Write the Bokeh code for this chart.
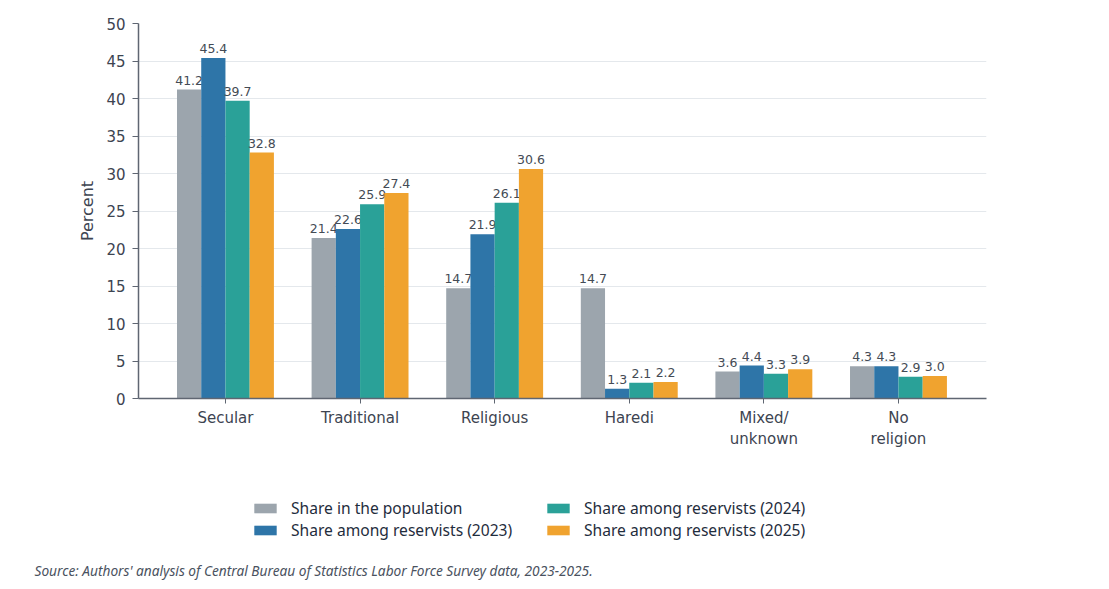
from bokeh.plotting import figure
from bokeh.models import (ColumnDataSource, Range1d, FixedTicker, Legend, LegendItem, Label)
from bokeh.layouts import column
from bokeh.core.properties import value
from bokeh.embed import file_html
from bokeh.resources import INLINE

# data
categories = ["Secular", "Traditional", "Religious", "Haredi", "Mixed/\nunknown", "No\nreligion"]
population = [41.2, 21.4, 14.7, 14.7, 3.6, 4.3]
reservists_2023 = [45.4, 22.6, 21.9, 1.3, 4.4, 4.3]
reservists_2024 = [39.7, 25.9, 26.1, 2.1, 3.3, 2.9]
reservists_2025 = [32.8, 27.4, 30.6, 2.2, 3.9, 3.0]
series_names = ["Share in the population", "Share among reservists (2023)",
                "Share among reservists (2024)", "Share among reservists (2025)"]
y_ticks = [0, 5, 10, 15, 20, 25, 30, 35, 40, 45, 50]
source_text = "Source: Authors' analysis of Central Bureau of Statistics Labor Force Survey data, 2023-2025."

colors = ["#9ca5ad", "#2e75a8", "#2aa198", "#f0a32f"]
offsets = [-0.27, -0.09, 0.09, 0.27]
bar_w = 0.18

tick_color = "#3d4451"
axis_color = "#5f6672"
font = "DejaVu Sans"

# main chart
p = figure(width=1109, height=465, min_border_left=138, min_border_right=123,
           min_border_top=23, min_border_bottom=67,
           x_range=Range1d(-0.646, 5.654), y_range=Range1d(0, 50),
           output_backend="svg", toolbar_location=None, tools="")
p.outline_line_color = None

idx = list(range(len(categories)))
for vals, off, col in zip([population, reservists_2023, reservists_2024, reservists_2025],
                          offsets, colors):
    src = ColumnDataSource(dict(x=[i + off for i in idx], top=vals,
                                lab=[f"{v:.1f}" for v in vals]))
    p.vbar(x="x", top="top", width=bar_w, source=src, fill_color=col, line_color=None)
    p.text(x="x", y="top", text="lab", source=src, text_align="center",
           text_baseline="bottom", y_offset=-5, text_font=value(font),
           text_font_size="12.5px", text_color="#444b55")

# axes
p.xaxis.ticker = FixedTicker(ticks=idx)
p.xaxis.major_label_overrides = {i: c for i, c in enumerate(categories)}
p.xaxis.major_label_text_font = font
p.xaxis.major_label_text_font_size = "15px"
p.xaxis.major_label_text_color = tick_color
p.xaxis.axis_line_color = axis_color
p.xaxis.axis_line_width = 1.5
p.xaxis.major_tick_line_color = axis_color
p.xaxis.major_tick_in = 0
p.xaxis.major_tick_out = 5
p.xaxis.minor_tick_line_color = None
p.xaxis.major_label_standoff = 5

p.yaxis.ticker = FixedTicker(ticks=y_ticks)
p.yaxis.axis_label = "Percent"
p.yaxis.axis_label_text_font = font
p.yaxis.axis_label_text_font_size = "16px"
p.yaxis.axis_label_text_font_style = "normal"
p.yaxis.axis_label_text_color = tick_color
p.yaxis.axis_label_standoff = 6
p.yaxis.major_label_text_font = font
p.yaxis.major_label_text_font_size = "15px"
p.yaxis.major_label_text_color = tick_color
p.yaxis.major_label_standoff = 7
p.yaxis.axis_line_color = axis_color
p.yaxis.axis_line_width = 1.5
p.yaxis.major_tick_line_color = axis_color
p.yaxis.major_tick_in = 0
p.yaxis.major_tick_out = 6
p.yaxis.minor_tick_line_color = None

p.xgrid.grid_line_color = None
p.ygrid.grid_line_color = "#e4e8ec"

# strip below the chart for the legend and the source note
p2 = figure(width=1109, height=124, min_border=0, x_range=Range1d(0, 1), y_range=Range1d(0, 1),
            x_axis_location=None, y_axis_location=None, frame_align=False,
            output_backend="svg", toolbar_location=None, tools="")
p2.outline_line_color = None
p2.grid.visible = False

# off-screen swatches, only used by the legend
swatches = []
for col in colors:
    swatches.append(p2.vbar(x=[-10], top=[-10], bottom=[-11], width=0.1,
                            fill_color=col, line_color=None))

def make_legend(items, loc):
    lg = Legend(items=items, location=loc, orientation="vertical",
                label_text_font="Noto Sans", label_text_font_size="15.6px",
                label_text_color="#1f2d3d", glyph_width=28, glyph_height=12,
                label_height=18, label_standoff=12, spacing=0, padding=0, margin=0,
                border_line_color=None, background_fill_alpha=0)
    p2.add_layout(lg, "center")

make_legend([LegendItem(label=series_names[0], renderers=[swatches[0]]),
             LegendItem(label=series_names[1], renderers=[swatches[1]])], (251, 48))
make_legend([LegendItem(label=series_names[2], renderers=[swatches[2]]),
             LegendItem(label=series_names[3], renderers=[swatches[3]])], (544, 48))

p2.add_layout(Label(x=34, y=19, x_units="screen", y_units="screen", text=source_text,
                    text_font="Noto Sans", text_font_style="italic", text_font_size="13.7px",
                    text_color="#4a5260", text_baseline="middle"))

open("out.html", "w").write(file_html(column(p, p2, spacing=0), INLINE))
